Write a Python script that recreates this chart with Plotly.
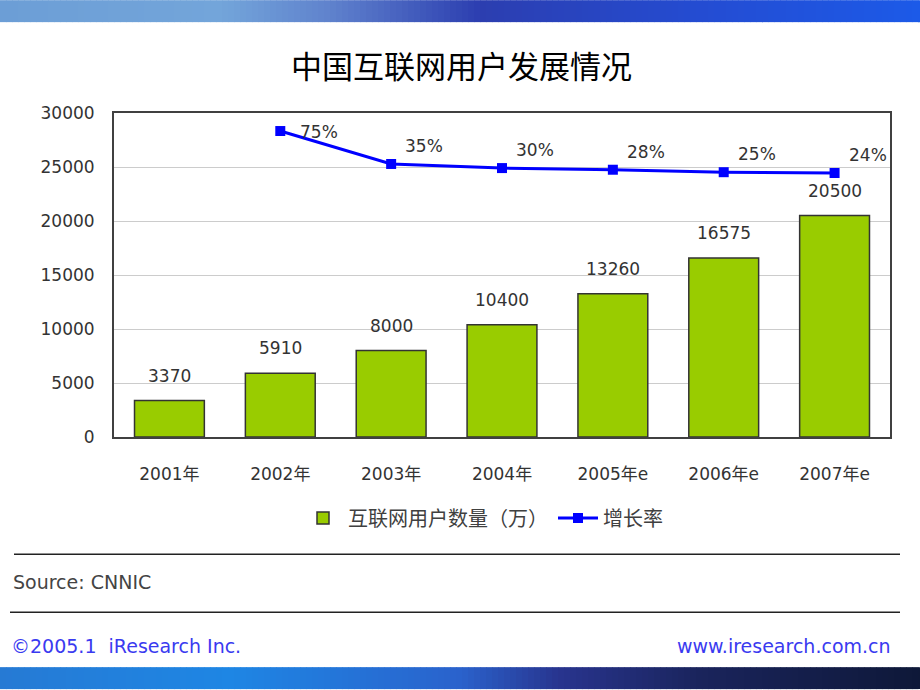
import plotly.graph_objects as go

# ---------------- data ----------------
years = ["2001年", "2002年", "2003年", "2004年", "2005年e", "2006年e", "2007年e"]
users = [3370, 5910, 8000, 10400, 13260, 16575, 20500]
growth_years = ["2002年", "2003年", "2004年", "2005年e", "2006年e", "2007年e"]
growth = [75, 35, 30, 28, 25, 24]
growth_labels = ["75%", "35%", "30%", "28%", "25%", "24%"]
y_ticks = [0, 5000, 10000, 15000, 20000, 25000, 30000]

title_text = "中国互联网用户发展情况"
bar_name = "互联网用户数量（万）"
line_name = "增长率"
source_text = "Source: CNNIC"
copyright_text = "©2005.1  iResearch Inc."
website_text = "www.iresearch.com.cn"

# ---------------- layout helpers ----------------
W, H = 920, 690
L, R, T, B = 114, 890, 113, 437.5


def px(x):
    return (x - L) / (R - L)


def py(y):
    return (B - y) / (B - T)


FONT = "DejaVu Sans, Noto Sans CJK SC, sans-serif"
CJK = "Noto Sans CJK SC, sans-serif"
TXT = "#333333"


def lerp_stops(stops, x):
    for (x0, c0), (x1, c1) in zip(stops, stops[1:]):
        if x0 <= x <= x1:
            t = (x - x0) / (x1 - x0) if x1 > x0 else 0
            return tuple(round(a + (b - a) * t) for a, b in zip(c0, c1))
    return stops[-1][1]


def gradient_band(stops, y0, y1, step=6):
    out = []
    x = 0
    while x < W:
        c = lerp_stops(stops, x + step / 2)
        out.append(dict(type="rect", xref="paper", yref="paper",
                        x0=px(x), x1=px(min(x + step + 0.5, W)),
                        y0=py(y1), y1=py(y0), line=dict(width=0),
                        fillcolor="rgb(%d,%d,%d)" % c, layer="below"))
        x += step
    return out


top_stops = [(0, (108, 158, 214)), (220, (115, 165, 218)), (330, (95, 130, 205)),
             (480, (44, 62, 176)), (700, (36, 76, 210)), (920, (28, 90, 232))]
bot_stops = [(0, (38, 122, 212)), (230, (30, 134, 228)), (460, (42, 98, 204)),
             (560, (40, 52, 142)), (700, (26, 36, 92)), (920, (14, 24, 56))]

shapes = []
shapes += gradient_band(top_stops, 0, 22)
shapes += gradient_band(bot_stops, 668, 690)
# separator lines
for yline, xa in [(555, 14), (613, 10)]:
    shapes.append(dict(type="line", xref="paper", yref="paper",
                       x0=px(xa), x1=px(900), y0=py(yline), y1=py(yline),
                       line=dict(color="#222222", width=1.6)))

# ---------------- traces ----------------
fig = go.Figure()
fig.add_trace(go.Bar(
    x=years, y=users, name=bar_name,
    marker=dict(color="#99cc00", line=dict(color="#333333", width=1.5)),
))
fig.add_trace(go.Scatter(
    x=growth_years, y=growth, name=line_name, yaxis="y2",
    mode="lines+markers",
    line=dict(color="#0000ff", width=3),
    marker=dict(symbol="square", size=10, color="#0000ff"),
))

annotations = []
for x, v in zip(years, users):
    annotations.append(dict(x=x, y=v, xref="x", yref="y", text=f"{v}",
                            showarrow=False, yanchor="bottom", yshift=13,
                            font=dict(family=FONT, size=17, color=TXT)))
gmax = max(growth)
for x, v, lab in zip(growth_years, growth, growth_labels):
    annotations.append(dict(x=x, y=v, xref="x", yref="y2", text=lab,
                            showarrow=False, xanchor="left", yanchor="middle",
                            xshift=18 if v == gmax else 12,
                            yshift=-1 if v == gmax else 18,
                            font=dict(family=FONT, size=17, color=TXT)))

annotations += [
    dict(x=px(461), y=py(64), xref="paper", yref="paper", xanchor="center",
         yanchor="middle", text=title_text, showarrow=False,
         font=dict(family=CJK, size=31, color="#000000")),
    dict(x=px(11), y=py(583), xref="paper", yref="paper", xanchor="left",
         yanchor="middle", text=source_text, showarrow=False,
         font=dict(family=FONT, size=19, color="#444444")),
    dict(x=px(9), y=py(647), xref="paper", yref="paper", xanchor="left",
         yanchor="middle", text=copyright_text, showarrow=False,
         font=dict(family=FONT, size=19, color="#3a3af0")),
    dict(x=px(893), y=py(647), xref="paper", yref="paper", xanchor="right",
         yanchor="middle", text=website_text, showarrow=False,
         font=dict(family=FONT, size=19, color="#3a3af0")),
]

fig.update_layout(
    width=W, height=H,
    margin=dict(l=L, r=W - R, t=T, b=H - B, pad=0),
    paper_bgcolor="white", plot_bgcolor="white",
    bargap=0.37,
    showlegend=True,
    legend=dict(orientation="h", x=px(298), y=py(499), xanchor="left",
                yanchor="top", font=dict(family=CJK, size=20, color="#404040"),
                itemwidth=40, bgcolor="rgba(0,0,0,0)"),
    xaxis=dict(type="category", showline=True, mirror=True,
               linecolor="#404040", linewidth=2, ticks="outside",
               ticklen=21, tickcolor="rgba(0,0,0,0)", showgrid=False,
               tickfont=dict(family=FONT, size=17, color=TXT)),
    yaxis=dict(range=[0, 30000], tickvals=y_ticks, tickformat="d",
               showline=True, mirror=True,
               linecolor="#404040", linewidth=2, gridcolor="#cccccc",
               gridwidth=1, ticks="outside", ticklen=14,
               tickcolor="rgba(0,0,0,0)", zeroline=False,
               tickfont=dict(family=FONT, size=17, color=TXT)),
    yaxis2=dict(overlaying="y", range=[-296.6, 96.9], visible=False),
    shapes=shapes,
    annotations=annotations,
)

fig.write_html(
    "out.html",
    config={"displayModeBar": False},
    post_script="document.body.style.margin='0';document.body.style.overflow='hidden';",
)
